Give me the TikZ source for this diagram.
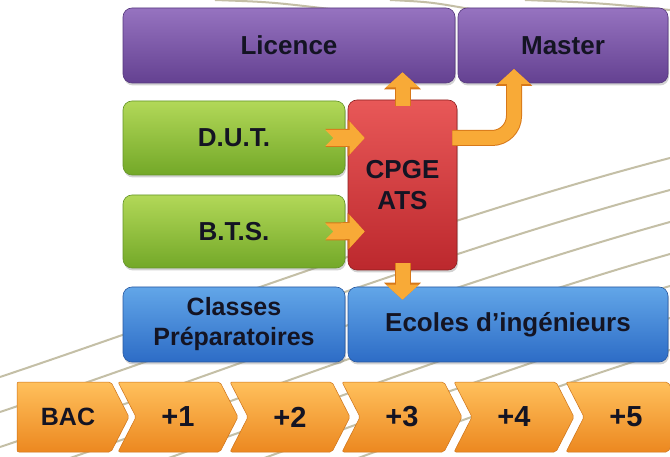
\documentclass[tikz,border=0pt]{standalone}
\usepackage{fontspec}
\setmainfont{Liberation Sans}
\usetikzlibrary{arrows.meta,shadows}
\definecolor{purT}{RGB}{150,115,192}
\definecolor{purB}{RGB}{100,65,145}
\definecolor{purD}{RGB}{85,55,125}
\definecolor{greT}{RGB}{178,216,88}
\definecolor{greB}{RGB}{115,168,40}
\definecolor{greD}{RGB}{100,148,40}
\definecolor{redT}{RGB}{232,88,88}
\definecolor{redB}{RGB}{188,40,45}
\definecolor{redD}{RGB}{140,30,30}
\definecolor{bluT}{RGB}{98,166,232}
\definecolor{bluB}{RGB}{45,108,198}
\definecolor{bluD}{RGB}{40,88,160}
\definecolor{orT}{RGB}{255,192,92}
\definecolor{orB}{RGB}{236,136,32}
\definecolor{orD}{RGB}{205,115,25}
\definecolor{arrC}{RGB}{248,170,55}
\definecolor{arrD}{RGB}{215,120,25}
\definecolor{txt}{RGB}{20,20,35}
\definecolor{bgl}{RGB}{196,191,166}
\begin{document}
\begin{tikzpicture}[x=1pt,y=-1pt,
  box/.style={rounded corners=9pt, inner sep=0pt, align=center, text=txt,
    font=\bfseries\fontsize{26}{31}\selectfont,
    drop shadow={shadow xshift=1pt, shadow yshift=-2.5pt, opacity=0.35}},
  purplebox/.style={box, top color=purT, bottom color=purB, draw=purD, line width=0.6pt},
  greenbox/.style={box, top color=greT, bottom color=greB, draw=greD, line width=0.6pt},
  redbox/.style={box, top color=redT, bottom color=redB, draw=redD, line width=0.6pt},
  bluebox/.style={box, top color=bluT, bottom color=bluB, draw=bluD, line width=0.6pt},
  chev/.style={top color=orT, bottom color=orB, draw=orD, line width=0.5pt, rounded corners=2pt},
  chevtext/.style={text=txt, inner sep=0pt, font=\bfseries\fontsize{29}{32}\selectfont},
  arr/.style={draw=arrC, line width=14pt, -{Triangle[width=32pt,length=15pt]},
    preaction={draw=arrD, line width=16pt, -{Triangle[width=36pt,length=17pt]}}},
  harr/.style={draw=arrC, line width=16pt, {Triangle Cap[reversed]}-{Triangle[width=32pt,length=15pt]},
    preaction={draw=arrD, line width=18pt, {Triangle Cap[reversed]}-{Triangle[width=36pt,length=17pt]}}},
  bgline/.style={draw=bgl, line width=2pt}
]
\useasboundingbox (0,0) rectangle (670,457);
\clip (0,0) rectangle (670,457);
\fill[white] (0,0) rectangle (670,457);
% background lines
\foreach \k in {0,...,6} {
  \path[bgline] (0,377+35*\k) .. controls (200,310+35*\k) and (450,215+34*\k) .. (670,158+32*\k);
}
\path[bgline] (215,0) .. controls (270,2) .. (330,9);
\path[bgline] (390,0) .. controls (430,2) .. (470,9);
\path[bgline] (525,0) .. controls (600,3) .. (670,10);
% boxes
\node[purplebox, minimum width=332pt, minimum height=75pt] (licence) at (289,45.5) {Licence};
\node[purplebox, minimum width=210pt, minimum height=75pt] (master) at (563,45.5) {Master};
\node[greenbox, minimum width=222pt, minimum height=74pt] (dut) at (234,138) {D.U.T.};
\node[greenbox, minimum width=222pt, minimum height=73pt] (bts) at (234,231.5) {B.T.S.};
\node[redbox, minimum width=109pt, minimum height=170pt] (cpge) at (402.5,185) {CPGE\\ATS};
\node[bluebox, minimum width=222pt, minimum height=75pt, font=\bfseries\fontsize{25}{30}\selectfont] (classes) at (234,324.5) {Classes\\Préparatoires};
\node[bluebox, minimum width=320pt, minimum height=75pt] (ecoles) at (508,324.5) {Ecoles d’ingénieurs};
% chevrons
\path[chev] (17,382) -- (111,382) -- (129,417) -- (111,452) -- (17,452) -- cycle;
\node[chevtext, font=\bfseries\fontsize{25}{28}\selectfont] (bac) at (68,417) {BAC};
\foreach \L/\t/\n in {118/+1/y1, 230/+2/y2, 342/+3/y3, 454/+4/y4, 566/+5/y5} {
  \path[chev] (\L,382) -- (\L+102,382) -- (\L+120,417) -- (\L+102,452) -- (\L,452) -- (\L+18,417) -- cycle;
  \node[chevtext] (\n) at (\L+60,417) {\t};
}
% arrows
\coordinate (mtip) at (514,83);
\draw[harr, shorten <=-20pt, shorten >=-17pt] (dut.east) -- (dut.east -| cpge.west);
\draw[harr, shorten <=-20pt, shorten >=-17pt] (bts.east) -- (bts.east -| cpge.west);
\draw[arr, shorten <=-6pt, shorten >=-11pt] (cpge.north) -- (cpge.north |- licence.south);
\draw[arr, shorten <=-7pt, shorten >=-13pt] (cpge.south) -- (cpge.south |- ecoles.north);
\draw[arr, rounded corners=22pt, shorten <=-5pt, shorten >=-14pt] (cpge.east |- dut.east) -| (mtip);
\end{tikzpicture}
\end{document}
